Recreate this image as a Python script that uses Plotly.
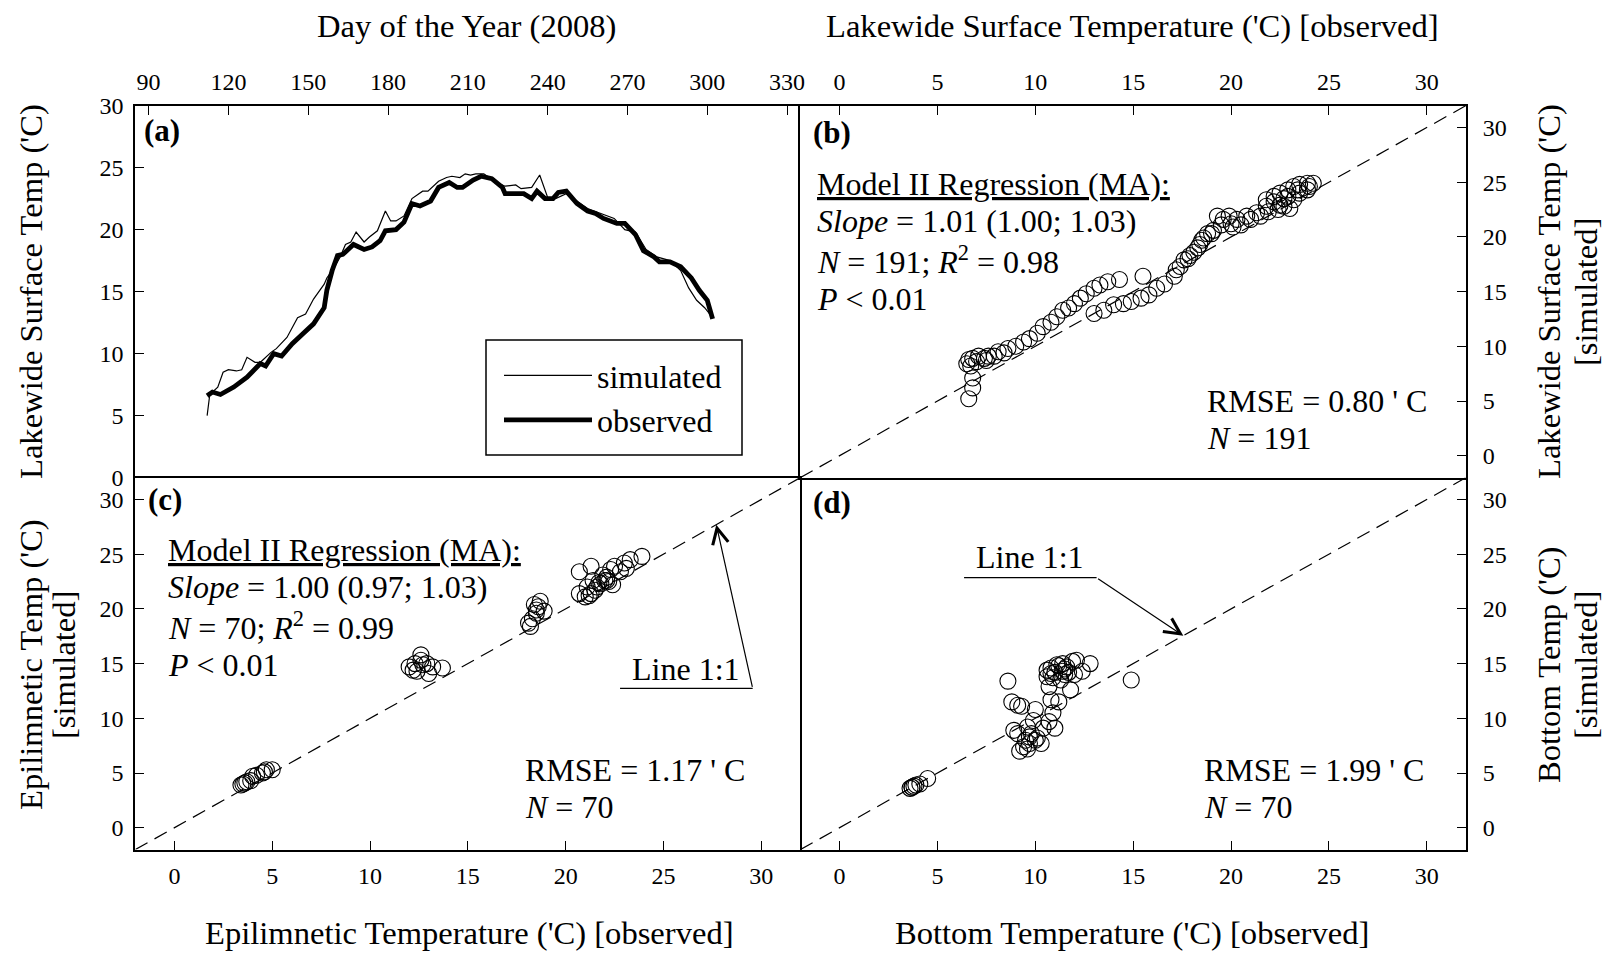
import plotly.graph_objects as go

W, H = 1607, 961
FONT = "Liberation Serif"

# ---------------- data ----------------
# (a) lakewide surface temperature time series (day of year 2008)
day_obs = [112, 114, 117, 122, 127, 132, 134, 137, 140, 144,
           148, 152, 156, 157, 159, 161, 163, 167, 171, 174,
           177, 179, 183, 186, 189, 192, 196, 199, 203, 206,
           208, 212, 215, 219, 223, 224, 231, 234, 236, 239,
           242, 244, 247, 251, 255, 258, 261, 266, 269, 273,
           276, 280, 282, 286, 290, 294, 297, 300, 302]
temp_obs = [6.6, 6.9, 6.7, 7.3, 8.1, 9.2, 9.0, 10.0, 9.8, 10.8,
            11.6, 12.4, 13.7, 15.1, 16.7, 17.9, 18.0, 18.8, 18.4, 18.6,
            19.1, 19.9, 20.0, 20.6, 22.1, 21.9, 22.3, 23.4, 23.8, 23.4,
            23.4, 24.0, 24.3, 24.1, 23.4, 22.9, 22.9, 22.5, 23.1, 22.5,
            22.5, 23.0, 23.1, 22.1, 21.5, 21.3, 20.9, 20.5, 20.5, 19.6,
            18.3, 17.8, 17.4, 17.4, 17.0, 16.1, 15.1, 14.3, 12.8]
day_sim = [112, 113, 116, 118, 120, 123, 125, 127, 130, 132,
           136, 138, 142, 146, 149, 152, 156, 157, 160, 162,
           164, 166, 168, 171, 173, 176, 179, 181, 183, 186,
           189, 193, 195, 199, 202, 204, 207, 209, 211, 213,
           216, 220, 224, 228, 230, 234, 237, 240, 243, 247,
           251, 255, 260, 265, 269, 273, 277, 281, 286, 290,
           293, 296, 299, 302]
temp_sim = [5.0, 6.7, 7.3, 8.5, 8.7, 8.6, 8.7, 9.7, 9.3, 9.3,
            10.1, 10.4, 11.3, 12.9, 13.2, 14.4, 15.6, 16.1, 17.0, 17.8,
            18.8, 19.0, 19.8, 19.0, 19.4, 19.9, 21.5, 20.7, 20.7, 21.1,
            22.5, 23.1, 23.1, 23.9, 24.2, 24.3, 24.2, 24.5, 24.4, 24.5,
            24.5, 23.9, 23.5, 23.6, 23.3, 23.4, 24.4, 22.6, 22.5, 22.9,
            22.3, 21.7, 21.3, 20.9, 20.0, 19.8, 18.4, 17.8, 17.5, 16.7,
            15.3, 14.3, 13.7, 12.9]

# (b) lakewide surface temperature: observed vs simulated
b_obs = [6.6, 6.8, 6.8, 6.7, 6.6, 6.8, 7.1, 7.4, 7.6, 8.1,
         8.6, 9.0, 9.4, 9.7, 10.1, 10.4, 10.8, 11.1, 11.4, 11.7,
         12.0, 12.3, 12.6, 13.0, 13.3, 13.7, 14.3, 15.5, 13.0, 13.5,
         14.0, 14.5, 14.9, 15.4, 15.8, 16.2, 16.6, 17.1, 17.2, 17.6,
         17.9, 18.3, 18.5, 18.8, 19.1, 19.6, 19.3, 19.9, 20.1, 20.5,
         21.0, 21.5, 21.9, 22.4, 22.7, 21.8, 22.2, 22.5, 22.9, 23.2,
         23.5, 23.9, 24.2, 23.2, 22.9, 23.5, 23.9, 22.5, 23.0,
         17.4, 17.8, 18.1, 18.4, 18.6, 19.0, 19.5, 20.0, 20.3, 20.8,
         21.3, 21.8, 22.2, 22.7, 23.4, 24.0, 6.5, 7.0, 7.5, 7.9, 8.4]
b_sim = [5.2, 6.2, 7.1, 8.2, 8.8, 8.9, 9.1, 8.9, 9.1, 9.5,
         9.8, 10.0, 10.4, 10.7, 11.2, 11.8, 12.2, 12.7, 13.3, 13.5,
         13.9, 14.4, 14.8, 15.3, 15.6, 15.9, 16.1, 16.4, 13.0, 13.3,
         13.8, 13.9, 14.1, 14.4, 14.7, 15.3, 15.7, 16.4, 17.0, 17.9,
         18.3, 19.0, 19.7, 20.3, 20.6, 21.6, 21.9, 21.9, 20.9, 21.1,
         21.6, 21.9, 22.3, 22.5, 22.8, 23.4, 23.7, 24.0, 24.3, 24.6,
         24.8, 24.9, 24.9, 23.4, 23.7, 24.0, 24.3, 22.9, 22.6,
         17.3, 18.0, 18.6, 19.3, 19.9, 20.3, 21.1, 21.2, 21.6, 21.9,
         22.2, 22.8, 23.2, 23.5, 24.3, 24.6, 8.4, 8.6, 8.7, 9.1, 9.4]

# (c) epilimnetic temperature: observed vs simulated
c_obs = [3.4, 3.6, 3.7, 3.9, 4.0, 4.2, 4.5, 4.6, 4.7, 5.0, 3.5,
         12.0, 12.2, 12.3, 12.4, 12.6, 12.6, 12.7, 13.0, 12.9, 13.2, 13.7,
         18.1, 18.2, 18.3, 18.4, 18.5, 18.5, 18.6, 18.7, 18.9,
         20.7, 20.7, 21.0, 21.1, 21.3, 21.3, 21.4, 21.5, 21.6, 21.8,
         21.9, 22.0, 22.1, 22.1, 22.3, 22.5, 22.8, 23.0, 23.1, 23.3,
         23.9, 21.2, 21.7, 22.4, 22.2]
c_sim = [3.9, 4.1, 4.2, 4.3, 4.7, 4.8, 5.0, 5.1, 5.3, 5.3, 4.0,
         14.7, 14.4, 15.0, 14.3, 15.3, 15.8, 14.9, 14.1, 15.0, 14.7, 14.6,
         18.7, 18.4, 19.1, 20.4, 19.6, 19.9, 20.2, 20.7, 19.8,
         23.4, 21.4, 21.1, 22.0, 21.4, 23.9, 22.6, 21.7, 22.0, 22.3,
         23.1, 22.6, 22.6, 22.9, 23.6, 23.9, 23.4, 24.2, 23.7, 24.5,
         24.8, 21.2, 22.4, 22.2, 22.5]

# (d) bottom temperature: observed vs simulated
d_obs = [3.6, 3.7, 3.8, 3.9, 4.1, 4.5, 3.7,
         8.6, 8.8, 9.1, 9.3, 8.9, 9.1, 9.2, 9.4, 9.7, 9.9,
         10.0, 9.6, 10.1, 10.3, 10.4, 10.7, 10.9, 11.0, 10.8, 10.7,
         10.6, 10.6, 10.8, 11.1, 11.4, 11.6, 11.9, 12.1, 10.9, 11.3,
         11.5, 11.8, 11.2, 12.4, 12.8, 10.8, 11.4, 12.0, 9.7, 14.9,
         9.5, 9.8, 9.6, 10.0, 11.0, 11.2, 11.5, 11.7]
d_sim = [3.6, 3.7, 3.8, 3.9, 4.0, 4.5, 3.7,
         13.4, 11.5, 11.2, 11.1, 8.9, 8.6, 7.0, 7.4, 8.3, 9.8,
         10.8, 9.2, 8.2, 7.7, 9.1, 9.7, 10.5, 9.1, 11.7, 12.9,
         13.8, 14.4, 14.6, 14.9, 15.0, 14.7, 15.2, 15.3, 13.7, 13.5,
         14.0, 12.6, 11.5, 14.3, 15.0, 14.1, 14.3, 14.0, 7.7, 13.5,
         8.0, 8.6, 7.2, 8.0, 14.2, 14.8, 14.5, 14.2]

ONE_TO_ONE = [-2, 32]
day_ticks = [90, 120, 150, 180, 210, 240, 270, 300, 330]
temp_ticks = [0, 5, 10, 15, 20, 25, 30]

# ---------------- layout geometry (pixels) ----------------
XL, XM, XR = 135.3, 800.4, 1466.0
YT, YM, YB = 105.6, 477.6, 849.6


def fx(x):
    return x / W


def fy(y):
    return 1 - y / H


dom_left = [fx(XL), fx(XM)]
dom_right = [fx(XM), fx(XR)]
dom_top = [fy(YM), fy(YT)]
dom_bot = [fy(YB), fy(YM)]

fig = go.Figure()

fig.add_trace(go.Scatter(x=day_sim, y=temp_sim, mode="lines", name="simulated",
                         line=dict(color="black", width=1.2), xaxis="x", yaxis="y"))
fig.add_trace(go.Scatter(x=day_obs, y=temp_obs, mode="lines", name="observed",
                         line=dict(color="black", width=4.8), xaxis="x", yaxis="y"))

marker = dict(symbol="circle-open", size=16, color="black", line=dict(width=1.1, color="black"))
for xa, ya, ox, sy in [("x2", "y2", b_obs, b_sim), ("x3", "y3", c_obs, c_sim), ("x4", "y4", d_obs, d_sim)]:
    fig.add_trace(go.Scatter(x=ONE_TO_ONE, y=ONE_TO_ONE, mode="lines", showlegend=False,
                             line=dict(color="black", width=1.2, dash="14px,8px"),
                             xaxis=xa, yaxis=ya, hoverinfo="skip"))
    fig.add_trace(go.Scatter(x=ox, y=sy, mode="markers", marker=marker, showlegend=False,
                             xaxis=xa, yaxis=ya))


def axis(standoff, mirror, **kw):
    d = dict(showline=True, linecolor="black", linewidth=1.8, mirror=mirror,
             ticks="inside", ticklen=9, tickwidth=1.3, tickcolor="black",
             showgrid=False, zeroline=False, automargin=False,
             ticklabelstandoff=standoff, tickmode="array",
             tickfont=dict(family=FONT, size=24, color="black"))
    d.update(kw)
    return d


fig.update_layout(
    template="none",
    width=W, height=H, margin=dict(l=0, r=0, t=0, b=0, pad=0),
    paper_bgcolor="white", plot_bgcolor="rgba(0,0,0,0)",
    font=dict(family=FONT, color="black"),
    xaxis=axis(4, False, domain=dom_left, range=[85, 335], side="top", anchor="y",
               tickvals=day_ticks),
    yaxis=axis(5, False, domain=dom_top, range=[0, 30], side="left", anchor="x",
               tickvals=temp_ticks),
    xaxis2=axis(4, True, domain=dom_right, range=[-2, 32], side="top", anchor="y2",
                tickvals=temp_ticks),
    yaxis2=axis(10, True, domain=dom_top, range=[-2, 32], side="right", anchor="x2",
                tickvals=temp_ticks),
    xaxis3=axis(4, True, domain=dom_left, range=[-2, 32], side="bottom", anchor="y3",
                tickvals=temp_ticks),
    yaxis3=axis(5, True, domain=dom_bot, range=[-2, 32], side="left", anchor="x3",
                tickvals=temp_ticks),
    xaxis4=axis(4, False, domain=dom_right, range=[-2, 32], side="bottom", anchor="y4",
                tickvals=temp_ticks),
    yaxis4=axis(10, False, domain=dom_bot, range=[-2, 32], side="right", anchor="x4",
                tickvals=temp_ticks),
    legend=dict(x=fx(499), y=fy(348), xanchor="left", yanchor="top",
                borderwidth=0, bgcolor="rgba(0,0,0,0)",
                font=dict(family=FONT, size=32, color="black"),
                itemwidth=88, tracegroupgap=0),
    showlegend=True,
)

ann = []


def text(x, y, s, size=32, xanchor="left", angle=0):
    ann.append(dict(x=fx(x), y=fy(y), xref="paper", yref="paper", text=s, showarrow=False,
                    xanchor=xanchor, yanchor="middle", textangle=angle,
                    font=dict(family=FONT, size=size, color="black")))


# axis titles
text(466, 26, "Day of the Year (2008)", size=32.6, xanchor="center")
text(1132, 26, "Lakewide Surface Temperature ('C) [observed]", size=32.6, xanchor="center")
text(469, 933, "Epilimnetic Temperature ('C) [observed]", size=32.6, xanchor="center")
text(1132, 933, "Bottom Temperature ('C) [observed]", size=32.6, xanchor="center")
text(31, 292, "Lakewide Surface Temp ('C)", size=32.6, xanchor="center", angle=-90)
text(31, 665, "Epilimnetic Temp ('C)", size=32.6, xanchor="center", angle=-90)
text(64, 665, "[simulated]", size=32.6, xanchor="center", angle=-90)
text(1549, 292, "Lakewide Surface Temp ('C)", size=32.6, xanchor="center", angle=-90)
text(1586, 292, "[simulated]", size=32.6, xanchor="center", angle=-90)
text(1549, 665, "Bottom Temp ('C)", size=32.6, xanchor="center", angle=-90)
text(1586, 665, "[simulated]", size=32.6, xanchor="center", angle=-90)

# panel labels
text(142, 131, "<b>(a)</b>", size=31)
text(811, 133, "<b>(b)</b>", size=31)
text(146, 499, "<b>(c)</b>", size=31)
text(811, 502, "<b>(d)</b>", size=31)

# statistics panel b
text(815, 184, "<u>Model II Regression (MA):</u>")
text(815, 221, "<i>Slope</i> = 1.01 (1.00; 1.03)")
text(815, 260, "<i>N</i> = 191; <i>R</i><sup>2</sup> = 0.98")
text(815, 299, "<i>P</i> &lt; 0.01")
text(1205, 401, "RMSE = 0.80 ' C")
text(1205, 438, "<i>N</i> = 191")

# statistics panel c
text(166, 550, "<u>Model II Regression (MA):</u>")
text(166, 587, "<i>Slope</i> = 1.00 (0.97; 1.03)")
text(166, 626, "<i>N</i> = 70; <i>R</i><sup>2</sup> = 0.99")
text(166, 665, "<i>P</i> &lt; 0.01")
text(523, 770, "RMSE = 1.17 ' C")
text(523, 807, "<i>N</i> = 70")

# statistics panel d
text(1202, 770, "RMSE = 1.99 ' C")
text(1202, 807, "<i>N</i> = 70")

# Line 1:1 labels
text(630, 669, "Line 1:1")
text(974, 557, "Line 1:1")

# arrows (data coordinates of panels c and d)
ann.append(dict(x=27.7, y=27.7, xref="x3", yref="y3", ax=29.56, ay=12.74, axref="x3", ayref="y3",
                text="", showarrow=True, arrowhead=5, arrowsize=2.6, arrowwidth=1.2,
                arrowcolor="black", standoff=0, startstandoff=0))
ann.append(dict(x=17.56, y=17.55, xref="x4", yref="y4", ax=13.13, ay=22.85, axref="x4", ayref="y4",
                text="", showarrow=True, arrowhead=5, arrowsize=2.6, arrowwidth=1.2,
                arrowcolor="black", standoff=0, startstandoff=0))

shapes = [
    dict(type="line", xref="x3", yref="y3", x0=22.78, x1=29.56, y0=12.74, y1=12.74,
         line=dict(color="black", width=1.2)),
    dict(type="line", xref="x4", yref="y4", x0=6.36, x1=13.13, y0=22.85, y1=22.85,
         line=dict(color="black", width=1.2)),
    # legend frame
    dict(type="rect", xref="paper", yref="paper", x0=fx(486), x1=fx(742), y0=fy(455), y1=fy(340),
         line=dict(color="black", width=1.5), fillcolor="rgba(0,0,0,0)"),
]

fig.update_layout(annotations=ann, shapes=shapes)
fig.write_html("out.html")
